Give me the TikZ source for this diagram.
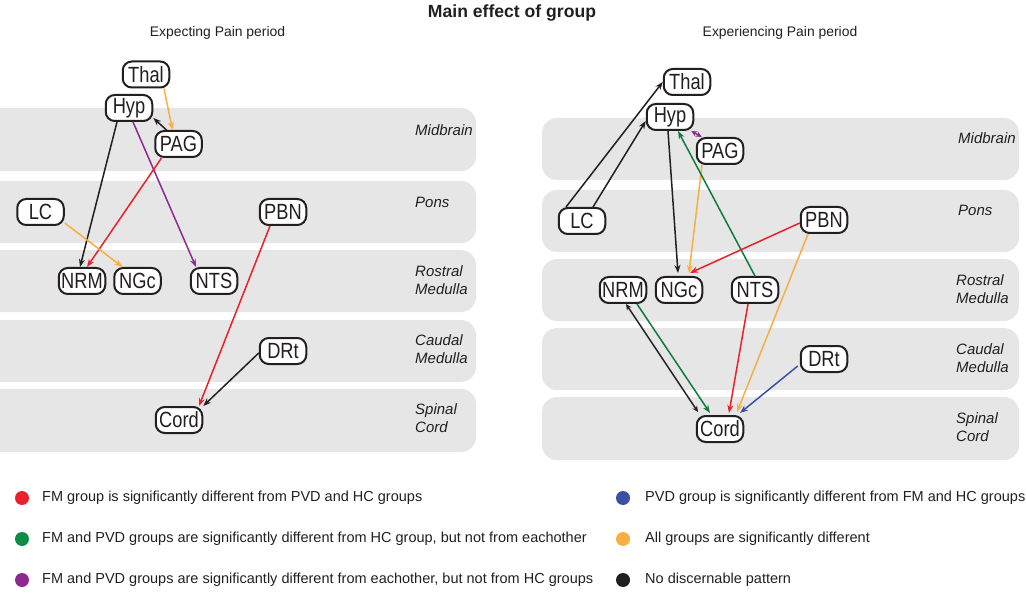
\documentclass[tikz,border=0pt]{standalone}
\usepackage{fontspec}
\setmainfont{Liberation Sans}
\newfontfamily\nodefont[FakeStretch=0.83]{Liberation Sans}
\usetikzlibrary{arrows.meta}
\definecolor{bandgray}{HTML}{E6E6E6}
\definecolor{cred}{HTML}{E8212B}
\definecolor{corange}{HTML}{F7AE42}
\definecolor{cgreen}{HTML}{117A3D}
\definecolor{cpurple}{HTML}{8E2A8F}
\definecolor{cblue}{HTML}{3A50A2}
\definecolor{cblack}{HTML}{231F20}
\definecolor{dgreen}{HTML}{0E8C45}
\tikzset{
  band/.style={fill=bandgray, draw=none, rounded corners=15pt},
  region/.style={anchor=west, font=\fontsize{15}{18}\selectfont\itshape, align=left, text=cblack, inner sep=0pt},
  brain/.style={draw=cblack, line width=2pt, fill=white, rounded corners=9pt,
    minimum width=46.5pt, minimum height=26pt, inner sep=0pt,
    font=\nodefont\fontsize{22}{23}\selectfont, text=cblack},
  conn/.style={line width=1.5pt, -{Stealth[length=8pt,width=6pt]}},
  bconn/.style={line width=1.5pt, {Stealth[length=6pt,width=5.5pt]}-{Stealth[length=6pt,width=5.5pt]}},
  dot/.style={circle, inner sep=0pt, minimum size=14pt},
  legtext/.style={anchor=west, font=\fontsize{14.5}{16}\selectfont, text=cblack, inner sep=0pt},
  paneltitle/.style={font=\fontsize{13.9}{15}\selectfont, text=cblack}
}
\begin{document}
\begin{tikzpicture}[x=1pt,y=-1pt]
\useasboundingbox (0,0) rectangle (1026,596);
% titles
\node[font=\fontsize{17.6}{19}\selectfont\bfseries, text=cblack] (title) at (512,13) {Main effect of group};
\node[paneltitle] (tleft) at (217.5,33) {Expecting Pain period};
\node[paneltitle] (tright) at (780,33) {Experiencing Pain period};

% left bands
\fill[band] (-20,108) rectangle (476,171);
\fill[band] (-20,181) rectangle (476,243);
\fill[band] (-20,250) rectangle (476,312);
\fill[band] (-20,320) rectangle (476,382);
\fill[band] (-20,389) rectangle (476,452);
\node[region] (lmid) at (415,130) {Midbrain};
\node[region] (lpons) at (415,202) {Pons};
\node[region] (lros) at (415,280) {Rostral\\Medulla};
\node[region] (lcau) at (415,349) {Caudal\\Medulla};
\node[region] (lspi) at (415,418) {Spinal\\Cord};

% right bands
\fill[band] (542,118) rectangle (1019,180);
\fill[band] (542,190) rectangle (1019,252);
\fill[band] (542,259) rectangle (1019,321);
\fill[band] (542,328) rectangle (1019,390);
\fill[band] (542,397) rectangle (1019,460);
\node[region] (rmid) at (958,138) {Midbrain};
\node[region] (rpons) at (958,210) {Pons};
\node[region] (rros) at (956,289) {Rostral\\Medulla};
\node[region] (rcau) at (956,358) {Caudal\\Medulla};
\node[region] (rspi) at (956,427) {Spinal\\Cord};

% left nodes
\node[brain] (LThal) at (146,74.5) {Thal};
\node[brain] (LHyp) at (129,108) {Hyp};
\node[brain] (LPAG) at (178.5,144) {PAG};
\node[brain] (LLC) at (40.5,212) {LC};
\node[brain] (LPBN) at (283,212) {PBN};
\node[brain] (LNRM) at (82,281) {NRM};
\node[brain] (LNGc) at (137.5,281) {NGc};
\node[brain] (LNTS) at (214,281) {NTS};
\node[brain] (LDRt) at (283,351) {DRt};
\node[brain] (LCord) at (179,420) {Cord};

% right nodes
\node[brain] (RThal) at (687,82) {Thal};
\node[brain] (RHyp) at (670,117) {Hyp};
\node[brain] (RPAG) at (720,151) {PAG};
\node[brain] (RLC) at (582,221) {LC};
\node[brain] (RPBN) at (824,220) {PBN};
\node[brain] (RNRM) at (623,290) {NRM};
\node[brain] (RNGc) at (679,290) {NGc};
\node[brain] (RNTS) at (755,290) {NTS};
\node[brain] (RDRt) at (824,359) {DRt};
\node[brain] (RCord) at (720,429) {Cord};

% left connectors
\draw[conn, corange] ([xshift=18pt]LThal.south) -- ([xshift=-6pt]LPAG.north);
\draw[conn, cblack] ([xshift=-12pt]LPAG.north) -- ([yshift=4pt]LHyp.south east);
\draw[conn, cblack] ([xshift=-12pt]LHyp.south) -- ([xshift=-2pt]LNRM.north);
\draw[conn, cpurple] ([xshift=4pt]LHyp.south) -- ([xshift=-18pt]LNTS.north);
\draw[conn, cred] ([xshift=-17pt]LPAG.south) -- ([xshift=5pt]LNRM.north);
\draw[conn, corange] ([yshift=3pt]LLC.south east) -- ([xshift=-15pt]LNGc.north);
\draw[conn, cred] ([xshift=-13pt]LPBN.south) -- ([xshift=20pt]LCord.north);
\draw[conn, cblack] ([yshift=-2pt]LDRt.west) -- (LCord.north east);

% right connectors
\draw[conn, cblack] ([xshift=-16pt]RLC.north) -- (RThal.west);
\draw[conn, cblack] ([xshift=11pt]RLC.north) -- ([yshift=-4pt]RHyp.west);
\draw[conn, cblack] ([xshift=-2pt]RHyp.south) -- ([xshift=-1pt,yshift=3pt]RNGc.north);
\draw[bconn, cpurple] ([xshift=-3pt]RHyp.south east) -- ([xshift=6pt]RPAG.north west);
\draw[conn, corange] ([xshift=-18pt]RPAG.south) -- ([xshift=10pt,yshift=3pt]RNGc.north);
\draw[conn, cgreen] (RNTS.north) -- ([xshift=8pt]RHyp.south);
\draw[conn, cred] ([yshift=-3pt]RPBN.west) -- ([xshift=11pt,yshift=3pt]RNGc.north);
\draw[conn, corange] ([xshift=-16pt]RPBN.south) -- ([xshift=17pt,yshift=3pt]RCord.north);
\draw[bconn, cblack] ([xshift=3pt]RNRM.south) -- ([xshift=-22pt,yshift=3pt]RCord.north);
\draw[conn, cgreen] ([xshift=14pt]RNRM.south) -- ([xshift=-10pt,yshift=2pt]RCord.north);
\draw[conn, cred] ([xshift=-7pt]RNTS.south) -- ([xshift=9pt,yshift=2pt]RCord.north);
\draw[conn, cblue] ([shift={(-2pt,-7pt)}]RDRt.west) -- ([xshift=20pt,yshift=2pt]RCord.north);

% legend
\node[dot, fill=cred] (d1) at (22,498) {};
\node[legtext] (l1) at (42,498) {FM group is significantly different from PVD and HC groups};
\node[dot, fill=dgreen] (d2) at (22,539) {};
\node[legtext] (l2) at (42,539) {FM and PVD groups are significantly different from HC group, but not from eachother};
\node[dot, fill=cpurple] (d3) at (22,580) {};
\node[legtext] (l3) at (42,580) {FM and PVD groups are significantly different from eachother, but not from HC groups};
\node[dot, fill=cblue] (d4) at (623,498) {};
\node[legtext] (l4) at (645,498) {PVD group is significantly different from FM and HC groups};
\node[dot, fill=corange] (d5) at (623,539) {};
\node[legtext] (l5) at (645,539) {All groups are significantly different};
\node[dot, fill=cblack] (d6) at (623,580) {};
\node[legtext] (l6) at (645,580) {No discernable pattern};
\end{tikzpicture}
\end{document}
